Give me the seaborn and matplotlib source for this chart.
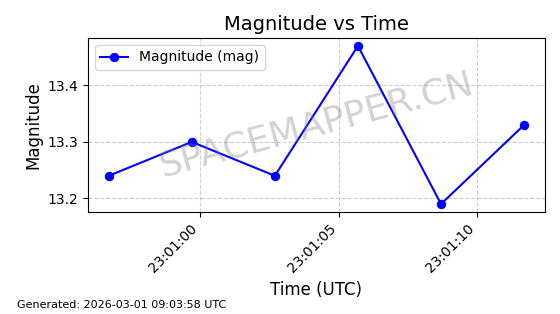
import matplotlib
matplotlib.use("Agg")
import matplotlib.pyplot as plt
import matplotlib.dates as mdates
import seaborn as sns
import pandas as pd

times = ["2026-02-28 23:00:56.7", "2026-02-28 23:00:59.7", "2026-02-28 23:01:02.7",
         "2026-02-28 23:01:05.7", "2026-02-28 23:01:08.7", "2026-02-28 23:01:11.7"]
magnitudes = [13.24, 13.30, 13.24, 13.47, 13.19, 13.33]

df = pd.DataFrame({"time": pd.to_datetime(times), "mag": magnitudes})

fig, ax = plt.subplots(figsize=(5.6, 3.14), dpi=100)
sns.lineplot(data=df, x="time", y="mag", ax=ax, color="blue", marker="o",
             markersize=6, markeredgecolor="blue", linewidth=1.5, label="Magnitude (mag)")
ax.set_title("Magnitude vs Time", fontsize=14)
ax.set_xlabel("Time (UTC)", fontsize=12)
ax.set_ylabel("Magnitude", fontsize=12)
ax.grid(True, linestyle="--", alpha=0.6)
ax.xaxis.set_major_locator(mdates.SecondLocator(bysecond=range(0, 60, 5)))
ax.xaxis.set_major_formatter(mdates.DateFormatter("%H:%M:%S"))
ax.set_yticks([13.2, 13.3, 13.4])
plt.setp(ax.get_xticklabels(), rotation=45, ha="right")
ax.legend(loc="upper left")
ax.text(0.5, 0.5, "SPACEMAPPER.CN", transform=ax.transAxes, fontsize=26,
        color="gray", alpha=0.35, ha="center", va="center", rotation=15)
fig.text(0.03, 0.02, "Generated: 2026-03-01 09:03:58 UTC", fontsize=8)
fig.subplots_adjust(left=0.157, right=0.973, top=0.879, bottom=0.325)
fig.savefig("out.png", dpi=100)
